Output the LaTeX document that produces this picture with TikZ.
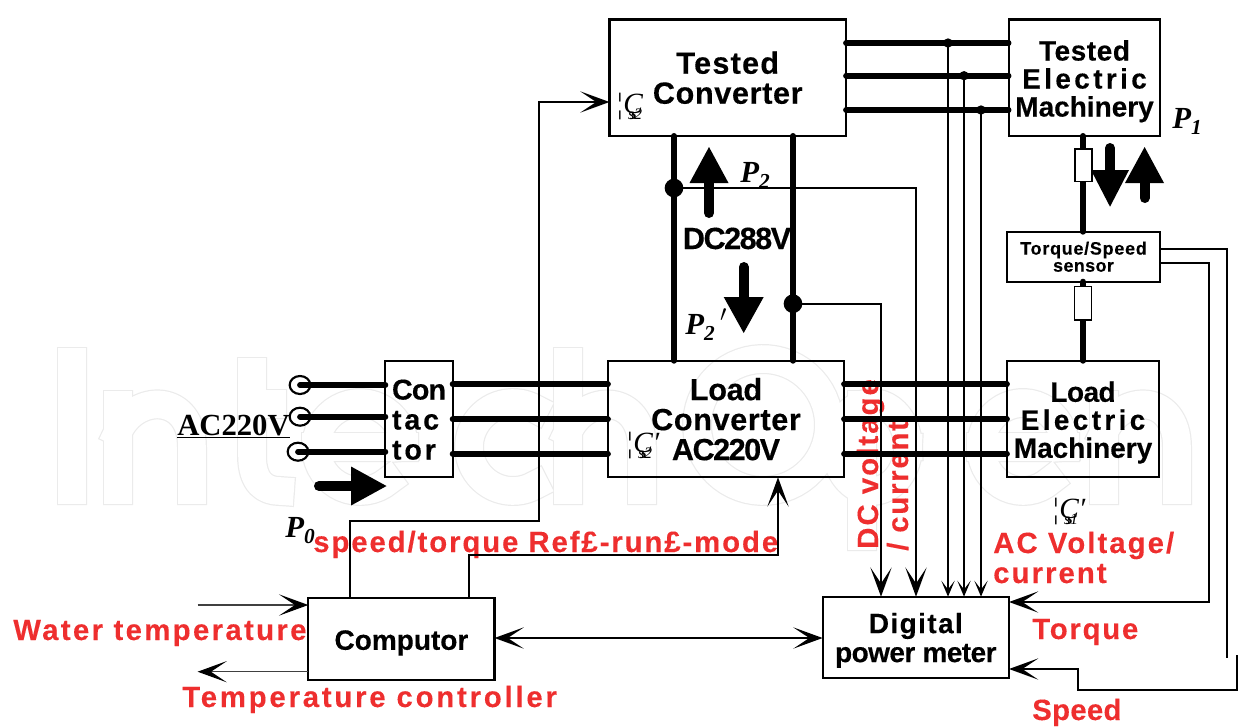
\documentclass[tikz,border=0pt]{standalone}
\usepackage{fontspec}
\setmainfont{Liberation Sans}
\newfontfamily\serifface{Liberation Serif}
\usetikzlibrary{arrows.meta,shapes.geometric}
\definecolor{labred}{HTML}{EE2E2E}
\definecolor{wmgray}{HTML}{EBEBEB}
\newcommand{\pl}[2]{{\serifface\bfseries\itshape #1\raisebox{-4.5pt}{\fontsize{16}{16}\selectfont #2}}}
\newcommand{\gs}[2]{{\serifface\itshape\fontsize{22}{22}\selectfont ¦Ç\llap{\raisebox{-5pt}{\fontsize{12}{12}\selectfont s#1\kern0.5pt}}#2}}
\newcommand{\ls}[2]{{\addfontfeature{LetterSpace=#1}#2}}
\newcommand{\dn}[1]{\rule{0pt}{#1}}
\tikzset{
  x=.75pt,y=-.75pt,
  bigT/.tip={Stealth[length=22pt,width=16pt,inset=12pt,color=black]},
  smallT/.tip={Stealth[length=12pt,width=10pt,inset=6.5pt,color=black]},
  boxbase/.style={draw=black,line width=1.6pt,outer sep=0pt,inner sep=0pt,align=center},
  box/.style={boxbase,font=\bfseries\fontsize{23}{22.5}\selectfont\addfontfeature{FakeBold=0.3}},
  boxs/.style={boxbase,font=\bfseries\fontsize{21}{21}\selectfont\addfontfeature{FakeBold=0.3}},
  redlab/.style={text=labred,inner sep=0pt,
    font=\bfseries\fontsize{22}{22.5}\selectfont\addfontfeature{FakeBold=0.2}},
  blacklab/.style={inner sep=0pt,font=\bfseries\fontsize{23}{23}\selectfont\addfontfeature{FakeBold=0.3}},
  serifp/.style={inner sep=0pt,font=\fontsize{23}{23}\selectfont},
  gamma/.style={inner sep=0pt},
  power/.style={line width=4.3pt,line cap=round},
  shaft/.style={line width=4.5pt,line cap=round},
  wire/.style={line width=1.5pt},
  thin wire/.style={line width=.9pt,draw=black!75},
  bigtip/.style={-bigT},
  smalltip/.style={-smallT},
  blockarrow/.style={line width=7.5pt,line cap=round},
  headfill/.style={fill=black,draw=none},
  coupling/.style={draw=black,fill=white,line width=1.1pt,inner sep=0pt,outer sep=0pt},
  terminal/.style={ellipse,draw=black,fill=white,line width=1.6pt,minimum width=15.5pt,minimum height=13.5pt,inner sep=0pt,outer sep=0pt},
  dot/.style={circle,fill=black,inner sep=0pt,outer sep=0pt},
}
\begin{document}
\begin{tikzpicture}
\useasboundingbox (0,0) rectangle (1238,726);
% watermark
\def\wmpath{
  (72,362) -- (72,490)
  (118,405) -- (118,490)
  (118,432) .. controls (135,393) and (192,393) .. (192,447) -- (192,490)
  (252,372) -- (252,455) .. controls (252,483) and (265,491) .. (280,491)
  (252,404) -- (272,404)
  (316,447) -- (404,447)
  plot[domain=0:-310,samples=40] ({360+44*cos(\x)},{447+44*sin(\x)})
  plot[domain=-60:-300,samples=40] ({513+44*cos(\x)},{447+44*sin(\x)})
  (568,362) -- (568,490)
  (568,432) .. controls (585,393) and (642,393) .. (642,447) -- (642,490)
  plot[domain=0:360,samples=60] ({763+66*cos(\x)},{425+66*sin(\x)})
  (862,405) -- (862,536)
  plot[domain=0:360,samples=50] ({872+36*cos(\x)},{447+44*sin(\x)})
  (981,447) -- (1065,447)
  plot[domain=0:-310,samples=40] ({1023+42*cos(\x)},{447+44*sin(\x)})
  (1104,405) -- (1104,490)
  (1104,432) .. controls (1121,393) and (1177,393) .. (1177,447) -- (1177,490)
}
\draw[wmgray,line width=22.5pt,line cap=rect,line join=round] \wmpath;
\draw[white,line width=20.7pt,line cap=rect,line join=round] \wmpath;

% red labels
\node[redlab,anchor=base west] (water) at (13,640) {\ls{8}{Water temperature}};
\node[redlab,anchor=base west] (tempc) at (182,707) {\ls{9.5}{Temperature controller}};
\node[redlab,anchor=base west] (ref) at (313,552) {\ls{6.5}{speed/torque Ref£-run£-mode}};
\node[redlab,anchor=base west] (acv) at (993,553) {\ls{7}{AC Voltage/}};
\node[redlab,anchor=base west] (accur) at (993,583) {\ls{7}{current}};
\node[redlab,anchor=base west] (torq) at (1032,639) {\ls{6}{Torque}};
\node[redlab,anchor=base west] (spd) at (1032,720) {\ls{1}{Speed}};
\node[redlab,rotate=90,anchor=base west] (dcv) at (878,549) {\ls{7}{DC voltage}};
\node[redlab,rotate=90,anchor=base west] (dcc) at (908,551) {\ls{6}{/ current}};

% boxes
\node[box,minimum width=236.5*.75pt,minimum height=116.5*.75pt] (tc) at (727.75,77.75) {\ls{4}{Tested}\\\ls{2}{Converter}};
\node[boxs,minimum width=151.8*.75pt,minimum height=116.5*.75pt] (tem) at (1084.5,77.75) {\dn{20.5pt}\ls{2}{Tested}\\\ls{12}{Electric}\\Machinery};
\node[boxbase,minimum width=153.8*.75pt,minimum height=50*.75pt,font=\bfseries\fontsize{13.5}{12.8}\selectfont\addfontfeature{FakeBold=0.2}] (sensor) at (1083.5,256.7) {\ls{4}{Torque/Speed}\\\ls{2}{sensor}};
\node[box,minimum width=236*.75pt,minimum height=116.6*.75pt] (lc) at (726,419) {\dn{17pt}\ls{-1}{Load}\\\ls{2}{Converter}\\\ls{-5}{AC220V}};
\node[boxs,minimum width=152*.75pt,minimum height=116.6*.75pt] (lem) at (1083,419) {\dn{20.5pt}\ls{-2}{Load}\\\ls{12}{Electric}\\Machinery};
\node[box,minimum width=67.2*.75pt,minimum height=116.6*.75pt,align=left,font=\bfseries\fontsize{21.5}{22.5}\selectfont\addfontfeature{FakeBold=0.3}] (cont) at (419,419) {\dn{16pt}\ls{-3}{Con}\\\ls{10}{tac}\\\ls{10}{tor}};
\node[boxs,minimum width=186.2*.75pt,minimum height=82*.75pt] (comp) at (401.4,639) {\dn{20.5pt}Computor};
\node[boxs,minimum width=186.4*.75pt,minimum height=81.6*.75pt,font=\bfseries\fontsize{21}{21.75}\selectfont\addfontfeature{FakeBold=0.3}] (meter) at (915.8,637.5) {\dn{19.5pt}\ls{5}{Digital}\\\ls{-2}{power meter}};

% AC input
\node[terminal] (t1) at (300,385) {};
\node[terminal] (t2) at (300,416.7) {};
\node[terminal] (t3) at (298,451.7) {};
\draw[power] (t1.center) -- (cont.west |- t1.center);
\draw[power] (t2.center) -- (cont.west |- t2.center);
\draw[power] (t3.center) -- (cont.west |- t3.center);
\foreach \y in {384.3,419.3,453.7}{
  \draw[power] (cont.east |- 0,\y) -- (lc.west |- 0,\y);
  \draw[power] (lc.east |- 0,\y) -- (lem.west |- 0,\y);
}
\node[serifp,anchor=base west] (ac) at (177,435) {\serifface\bfseries\underline{AC220V}};

% three phase output
\draw[power] (tc.east |- 0,43) -- (tem.west |- 0,43);
\draw[power] (tc.east |- 0,75.7) -- (tem.west |- 0,75.7);
\draw[power] (tc.east |- 0,110) -- (tem.west |- 0,110);
\node[dot,minimum size=7pt] (j1) at (948,43) {};
\node[dot,minimum size=7pt] (j2) at (964,75.7) {};
\node[dot,minimum size=7pt] (j3) at (981,110) {};
\draw[wire,smalltip] (j1.center) -- (meter.north -| j1.center);
\draw[wire,smalltip] (j2.center) -- (meter.north -| j2.center);
\draw[wire,smalltip] (j3.center) -- (meter.north -| j3.center);

% DC bus
\draw[shaft] (tc.south -| 674,0) -- (lc.north -| 674,0);
\draw[shaft] (tc.south -| 793,0) -- (lc.north -| 793,0);
\node[dot,minimum size=14pt] (d1) at (674,188) {};
\node[dot,minimum size=14pt] (d2) at (793,303.7) {};
\coordinate (d1c) at (916,188);
\coordinate (d2c) at (881,303.7);
\draw[wire,bigtip] (d1.center) -- (d1c) -- (meter.north -| d1c);
\draw[wire,bigtip] (d2.center) -- (d2c) -- (meter.north -| d2c);

% shaft and sensor
\draw[shaft] (tem.south -| 1083,0) -- (sensor.north -| 1083,0);
\draw[shaft] (sensor.south -| 1083,0) -- (lem.north -| 1083,0);
\node[coupling,minimum width=13pt,minimum height=24.5pt] (c1) at (1083.5,165.3) {};
\node[coupling,minimum width=13pt,minimum height=25pt] (c2) at (1083,303.3) {};

\coordinate (s1a) at (1226.8,249);
\coordinate (s1b) at (1226.8,658);
\coordinate (s2a) at (1209,262.7);
\coordinate (s2b) at (1209,602);
\draw[wire] (sensor.east |- s1a) -- (s1a) -- (s1b);
\draw[wire,bigtip] (sensor.east |- s2a) -- (s2a) -- (s2b) -- (meter.east |- s2b);
\coordinate (s3a) at (1237.3,655);
\coordinate (s3b) at (1237.3,690);
\coordinate (s3c) at (1078,690);
\coordinate (s3d) at (1078,669);
\draw[wire,bigtip] (s3a) -- (s3b) -- (s3c) -- (s3d) -- (meter.east |- s3d);

% computer connectors
\coordinate (k1) at (350,521);
\coordinate (k2) at (539,521);
\coordinate (k3) at (539,102);
\draw[wire,bigtip] (comp.north -| k1) -- (k1) -- (k2) -- (k3) -- (tc.west |- k3);
\coordinate (k4) at (469,555);
\coordinate (k5) at (778,555);
\draw[wire,bigtip] (comp.north -| k4) -- (k4) -- (k5) -- (lc.south -| k5);
\draw[wire,bigT-bigT] (comp.east |- 0,638) -- (meter.west |- 0,638);
\coordinate (w1) at (197.6,605);
\coordinate (w2) at (197.6,671.7);
\draw[thin wire,bigtip] (w1) -- (comp.west |- w1);
\draw[thin wire,bigtip] (comp.west |- w2) -- (w2);

% block arrows
\node[blacklab,anchor=base] (dc) at (737,249) {\ls{-5}{DC288V}};
\coordinate (ua) at (709,213); \coordinate (ub) at (709,175);
\draw[blockarrow] (ua) -- (ub);
\fill[headfill] (709,147) -- (728.5,183) -- (689.5,183) -- cycle;
\coordinate (da) at (743.7,267); \coordinate (db) at (743.7,305);
\draw[blockarrow] (da) -- (db);
\fill[headfill] (743.7,333) -- (763.7,297) -- (723.7,297) -- cycle;
\coordinate (ra) at (1110,148); \coordinate (rb) at (1110,180);
\draw[blockarrow] (ra) -- (rb);
\fill[headfill] (1110,206.7) -- (1129,170) -- (1091,170) -- cycle;
\coordinate (sa) at (1144.6,198); \coordinate (sb) at (1144.6,172);
\draw[blockarrow] (sa) -- (sb);
\fill[headfill] (1144.6,147) -- (1164,183) -- (1125,183) -- cycle;
\coordinate (ca) at (319,486); \coordinate (cb) at (360,486);
\draw[blockarrow] (ca) -- (cb);
\fill[headfill] (386.5,486) -- (351,466.5) -- (351,505.5) -- cycle;

% power labels
\node[serifp,anchor=base west] (p1) at (1172,128) {\pl{P}{1}};
\node[serifp,anchor=base west] (p2) at (740,182) {\pl{P}{2}};
\node[serifp,anchor=base west] (p2b) at (685,334) {\pl{P}{2}{\serifface\bfseries\itshape$\,'$}};
\node[serifp,anchor=base west] (p0) at (285,537) {\pl{P}{0}};
\node[gamma,anchor=base west] (g1) at (615,113) {\gs{2}{}};
\node[gamma,anchor=base west] (g2) at (625,452) {\gs{2}{′}};
\node[gamma,anchor=base west] (g3) at (1051,518) {\gs{1}{′}};
\end{tikzpicture}
\end{document}
